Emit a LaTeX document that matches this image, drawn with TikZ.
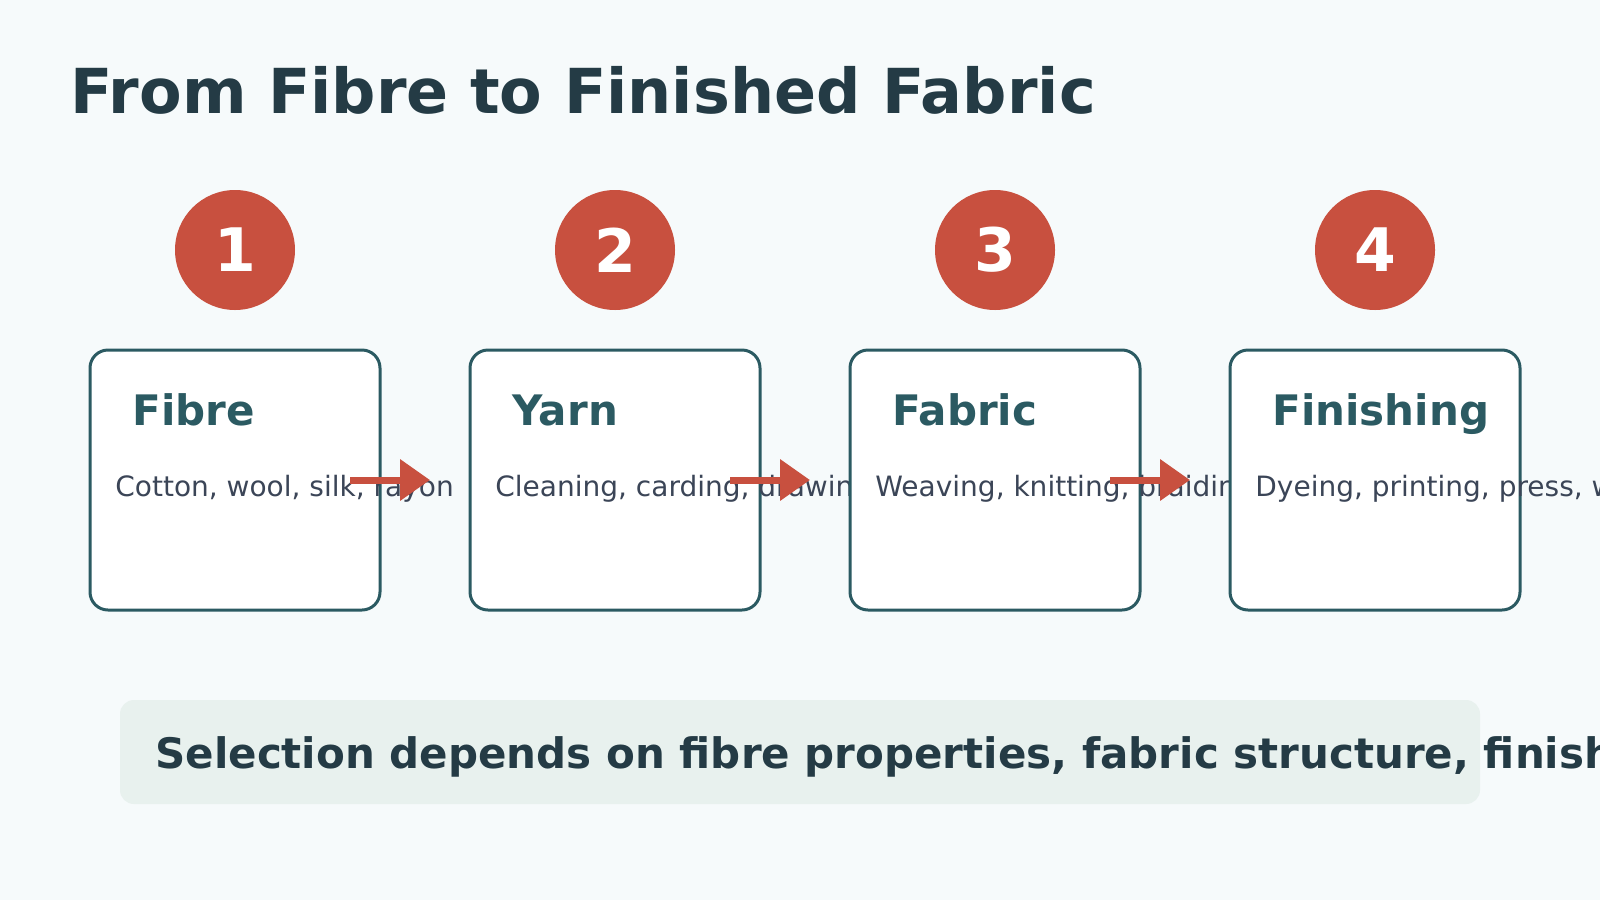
\documentclass[tikz,border=0pt]{standalone}
\usepackage{fontspec}
\setmainfont{DejaVu Sans}
\usepackage{tikz}
\usetikzlibrary{arrows.meta}
\definecolor{bgcol}{HTML}{F6FAFB}
\definecolor{titlecol}{HTML}{243B45}
\definecolor{tealcol}{HTML}{2B5A62}
\definecolor{desccol}{HTML}{3B4557}
\definecolor{redcol}{HTML}{C8503F}
\definecolor{barcol}{HTML}{E8F1EE}
\tikzset{
  badge/.style={circle, fill=redcol, text=white, minimum size=60pt, inner sep=0pt,
    font=\fontsize{30pt}{36pt}\selectfont\bfseries},
  card/.style={draw=tealcol, line width=1.5pt, fill=white, rounded corners=9pt,
    minimum width=145pt, minimum height=130pt, inner sep=0pt, outer sep=0pt},
  cardtitle/.style={anchor=base west, inner sep=0pt, text=tealcol,
    font=\fontsize{21pt}{25pt}\selectfont\bfseries},
  carddesc/.style={anchor=base west, inner sep=0pt, text=desccol,
    font=\fontsize{14pt}{17pt}\selectfont},
  flow/.style={draw=redcol, line width=3.5pt, -{Triangle[length=15pt,width=20pt]},
    shorten <=-15pt, shorten >=20pt}
}
% #1 name, #2 left edge, #3 number, #4 title, #5 text
\newcommand{\stagecard}[5]{
  \node[badge] (#1num) at (#2+145, 250) {#3};
  \node[card] (#1) at (#2+145, 480) {};
  \node[cardtitle] (#1title) at (#2+42, 425) {#4};
  \node[carddesc] (#1desc) at (#2+25, 496) {#5};
}
\begin{document}
\begin{tikzpicture}[x=0.5pt, y=-0.5pt]
        \useasboundingbox (0,0) rectangle (1600,900);
        \fill[bgcol] (0,0) rectangle (1600,900);

        \node[anchor=base west, inner sep=0pt, text=titlecol,
          font=\fontsize{31pt}{37pt}\selectfont\bfseries] (title) at (70,113)
          {From Fibre to Finished Fabric};

        % stages
        \stagecard{fibre}{90}{1}{Fibre}{Cotton, wool, silk, rayon}
        \stagecard{yarn}{470}{2}{Yarn}{Cleaning, carding, drawing}
        \stagecard{fabric}{850}{3}{Fabric}{Weaving, knitting, braiding}
        \stagecard{finish}{1230}{4}{Finishing}{Dyeing, printing, press, w}

        % arrows
        \draw[flow] (fibre.east) -- (yarn.west);
        \draw[flow] (yarn.east) -- (fabric.west);
        \draw[flow] (fabric.east) -- (finish.west);

        % note
        \node[fill=barcol, rounded corners=7pt, minimum width=680pt, minimum height=52pt,
          inner sep=0pt] (note) at (800,752) {};
        \node[anchor=base west, inner sep=0pt, text=titlecol,
          font=\fontsize{21pt}{25pt}\selectfont\bfseries] (notetext) at (155,768)
          {Selection depends on fibre properties, fabric structure, finish};
\end{tikzpicture}
\end{document}
